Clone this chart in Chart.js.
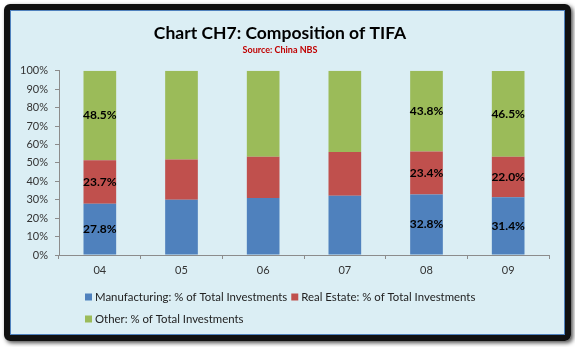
<!DOCTYPE html>
<html>
<head>
<meta charset="utf-8">
<script src="https://cdn.jsdelivr.net/npm/chart.js@4/dist/chart.umd.min.js"></script>
<style>
  html, body { margin: 0; padding: 0; background: #ffffff; }
  body { width: 575px; height: 347px; position: relative; overflow: hidden; }
  #frame {
    position: absolute; left: 4px; top: 4px;
    width: 555px; height: 325px;
    border: 6px solid #111;
    border-radius: 6px;
    box-shadow: 2px 2px 4px rgba(0,0,0,0.7);
  }
  #inner {
    position: absolute; left: 0; top: 0;
    width: 553px; height: 323px;
    border: 1px solid #4f81bd;
    background: #dbeef4;
  }
  canvas { display: block; }
</style>
</head>
<body>
<div id="frame"><div id="inner"><canvas id="tifaChart" width="553" height="323"></canvas></div></div>
<script>
  const years = ["04", "05", "06", "07", "08", "09"];
  const manufacturing = [27.8, 30.0, 31.0, 32.2, 32.8, 31.4];
  const realEstate = [23.7, 21.9, 22.4, 23.7, 23.4, 22.0];
  const other = [48.5, 48.1, 46.6, 44.1, 43.8, 46.5];
  const labeledYears = ["04", "08", "09"];
  const yTicks = [0, 10, 20, 30, 40, 50, 60, 70, 80, 90, 100];

  const FONT = "Lato, 'Liberation Sans', sans-serif";

  // values printed inside the segments
  const segmentLabels = {
    id: "segmentLabels",
    afterDatasetsDraw(chart) {
      const ctx = chart.ctx;
      ctx.save();
      ctx.font = "bold 12px " + FONT;
      ctx.fillStyle = "#000";
      ctx.textAlign = "center";
      ctx.textBaseline = "middle";
      chart.data.datasets.forEach((ds, i) => {
        chart.getDatasetMeta(i).data.forEach((bar, j) => {
          if (!labeledYears.includes(years[j])) return;
          const mid = (bar.y + bar.base) / 2;
          ctx.fillText(ds.data[j].toFixed(1) + "%", bar.x, mid);
        });
      });
      ctx.restore();
    }
  };

  // excel-like legend: two rows, left aligned
  const legendRows = [[0, 1], [2]];
  const bottomLegend = {
    id: "bottomLegend",
    afterDraw(chart) {
      const ctx = chart.ctx;
      ctx.save();
      ctx.font = "11.4px " + FONT;
      ctx.textBaseline = "middle";
      legendRows.forEach((row, r) => {
        let x = 74;
        const y = 286 + r * 22;
        row.forEach(i => {
          const ds = chart.data.datasets[i];
          ctx.fillStyle = ds.backgroundColor;
          ctx.fillRect(x, y - 3.5, 7, 7);
          ctx.fillStyle = "#222";
          ctx.fillText(ds.label, x + 10, y);
          x += 10 + ctx.measureText(ds.label).width + 4;
        });
      });
      ctx.restore();
    }
  };

  new Chart(document.getElementById("tifaChart").getContext("2d"), {
    type: "bar",
    data: {
      labels: years,
      datasets: [
        { label: "Manufacturing: % of Total Investments", data: manufacturing, backgroundColor: "#4f81bd" },
        { label: "Real Estate: % of Total Investments", data: realEstate, backgroundColor: "#c0504d" },
        { label: "Other: % of Total Investments", data: other, backgroundColor: "#9bbb59" }
      ]
    },
    options: {
      responsive: false,
      animation: false,
      layout: { padding: { left: 0, right: 15, top: 0, bottom: 49 } },
      datasets: { bar: { categoryPercentage: 0.8, barPercentage: 0.5 } },
      plugins: {
        legend: { display: false },
        tooltip: { enabled: false },
        title: {
          display: true,
          text: "Chart CH7: Composition of TIFA",
          color: "#000",
          font: { family: FONT, size: 17.5, weight: "bold" },
          padding: { top: 12, bottom: 1 }
        },
        subtitle: {
          display: true,
          text: "Source: China NBS",
          color: "#c00000",
          font: { family: FONT, size: 9, weight: "bold" },
          padding: { top: 0, bottom: 15 }
        }
      },
      scales: {
        x: {
          stacked: true,
          grid: { offset: true, drawOnChartArea: false, tickLength: 4, color: "#8c8c8c" },
          border: { color: "#8c8c8c" },
          ticks: { color: "#333", font: { family: FONT, size: 11 }, padding: 5 },
          afterFit(scale) { scale.height = 30; }
        },
        y: {
          stacked: true,
          min: 0,
          max: 100,
          afterBuildTicks(scale) { scale.ticks = yTicks.map(v => ({ value: v })); },
          grid: { drawOnChartArea: false, tickLength: 4, color: "#8c8c8c" },
          border: { color: "#8c8c8c" },
          ticks: { color: "#333", font: { family: FONT, size: 11 }, padding: 7, callback: v => v + "%" },
          afterFit(scale) { scale.width = 48; }
        }
      }
    },
    plugins: [segmentLabels, bottomLegend]
  });
</script>
</body>
</html>
